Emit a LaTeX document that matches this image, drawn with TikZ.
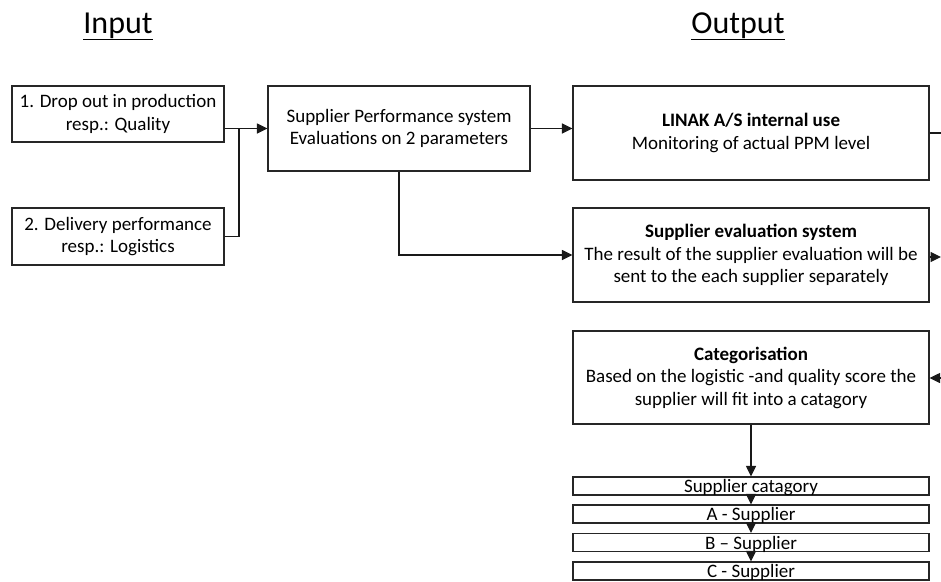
\documentclass[tikz,border=0pt]{standalone}
\usepackage{fontspec}
\setmainfont{Carlito}
\usetikzlibrary{arrows.meta}
\begin{document}
\begin{tikzpicture}[x=1pt,y=-1pt,
  txt/.style={font=\fontsize{19}{22.5}\selectfont},
  box/.style={draw=black!85, line width=1.1pt, inner sep=0pt, align=center, txt},
  inbox/.style={box, minimum width=212pt},
  bigbox/.style={box, minimum width=356pt, minimum height=94pt},
  stackbox/.style={box, minimum width=356pt, text height=13pt, text depth=0pt, inner ysep=2.5pt},
  title/.style={font=\fontsize{32}{36}\selectfont, anchor=base},
  conn/.style={line width=1.1pt, draw=black!90},
  arr/.style={conn, -{Triangle[length=10.5pt,width=10pt]}}
]
\useasboundingbox (0,0) rectangle (941,581);

% titles
\node[title] (tin) at (118,33) {\underline{Input}};
\node[title] (tout) at (738,33) {\underline{Output}};

% input boxes
\node[inbox, minimum height=56pt] (b1) at (118,114) {1. Drop out in production\\resp.: Quality};
\node[inbox, minimum height=57pt] (b2) at (118,236.5) {2. Delivery performance\\resp.: Logistics};

% supplier performance system
\node[box, minimum width=262pt, minimum height=85pt] (sp) at (399,128.5) {Supplier Performance system\\Evaluations on 2 parameters};

% output boxes
\node[bigbox] (linak) at (751,133) {\textbf{LINAK A/S internal use}\\Monitoring of actual PPM level};
\node[bigbox] (eval) at (751,255) {\textbf{Supplier evaluation system}\\The result of the supplier evaluation will be\\sent to the each supplier separately};
\node[bigbox, minimum height=93pt] (categ) at (751,377.5) {\textbf{Categorisation}\\Based on the logistic -and quality score the\\supplier will fit into a catagory};

% category stack
\node[stackbox] (cat) at (751,486) {Supplier catagory};
\node[stackbox] (ca) at (751,514) {A - Supplier};
\node[stackbox] (cb) at (751,542.5) {B – Supplier};
\node[stackbox] (cc) at (751,571) {C - Supplier};

% helper coordinates
\coordinate (jn) at (239,128.5);
\coordinate (e1) at (941,133);
\coordinate (e2) at (941,257);
\coordinate (e3) at (941,378);

% connectors
\draw[conn] (b1.east |- sp.west) -- (jn);
\draw[conn] (b2.east) -| (jn);
\draw[arr] (jn) -- (sp.west);
\draw[arr] (sp.east) -- (sp.east -| linak.west);
\draw[arr] (sp.south) |- (eval.west);
\draw[conn] (linak.east) -- (e1);
\draw[arr] (eval.east |- e2) -- (e2);
\draw[arr] (e3) -- (categ.east |- e3);
\draw[arr] (categ.south) -- (cat.north);
\draw[arr] (cat.south) -- (ca.north);
\draw[arr] (ca.south) -- (cb.north);
\draw[arr] (cb.south) -- (cc.north);
\end{tikzpicture}
\end{document}
